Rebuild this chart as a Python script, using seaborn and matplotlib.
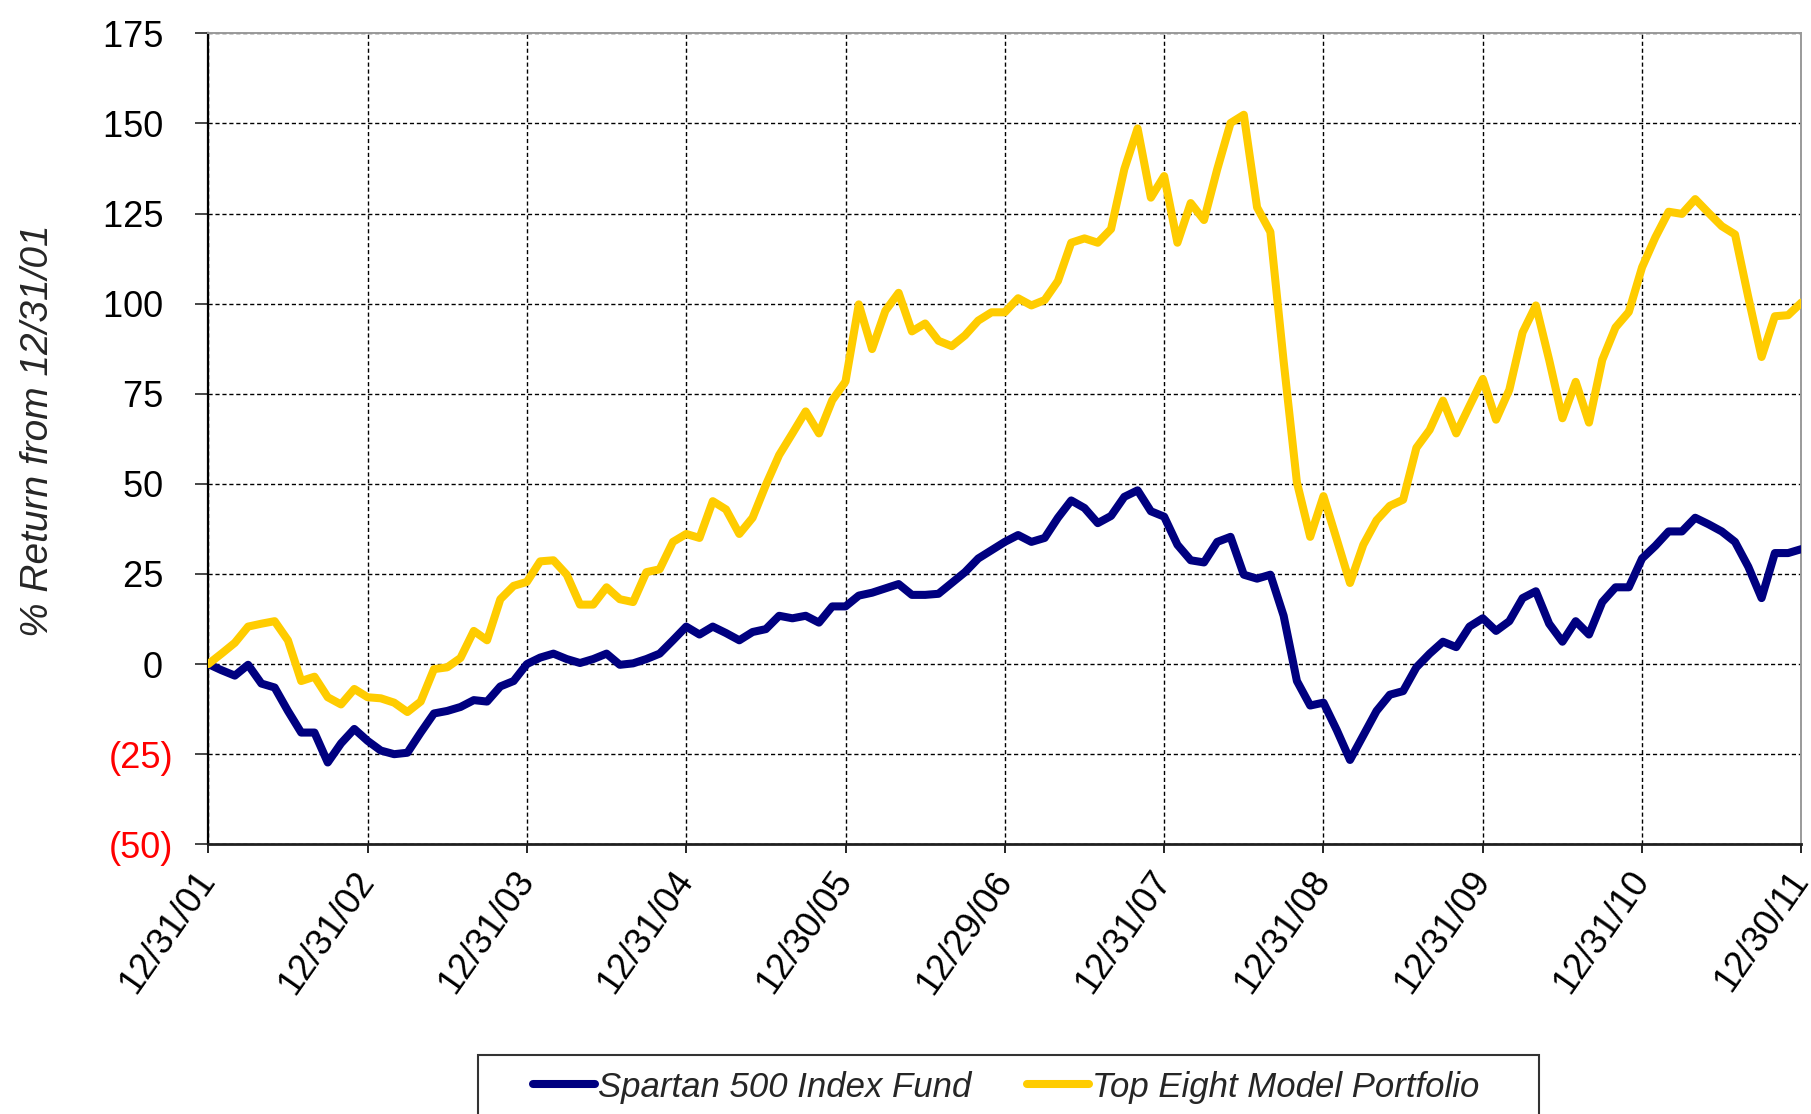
import numpy as np
import pandas as pd
import seaborn as sns
import matplotlib.pyplot as plt
from matplotlib.patches import Rectangle

#%% data (monthly, % return from 12/31/01)
spartan = [0, -1.7, -3.2, -0.2, -5.4, -6.5, -13, -19, -19, -27.3, -22, -18,
           -21.3, -24, -25, -24.6, -19, -13.7, -13, -11.9, -10, -10.4, -6.2, -4.7,
           0, 1.8, 2.9, 1.4, 0.3, 1.4, 2.9, -0.2, 0.2, 1.4, 2.9, 6.6,
           10.4, 8.2, 10.4, 8.6, 6.6, 8.9, 9.7, 13.4, 12.7, 13.4, 11.5, 16,
           16, 19, 19.8, 21, 22.2, 19.2, 19.2, 19.5, 22.5, 25.5, 29.3, 31.6,
           33.9, 35.8, 33.9, 35, 40.6, 45.4, 43.3, 39.1, 41.1, 46.4, 48.2, 42.4,
           40.9, 33.1, 28.8, 28.2, 33.9, 35.3, 24.8, 23.7, 24.8, 13.4, -4.7, -11.5,
           -10.7, -18.3, -26.6, -19.8, -13, -8.5, -7.5, -0.9, 2.9, 6.2, 4.7, 10.4,
           12.7, 9.2, 11.9, 18.3, 20.2, 11.2, 6.2, 11.9, 8.2, 17.2, 21.3, 21.3,
           29.3, 32.8, 36.8, 36.8, 40.6, 38.8, 36.8, 33.9, 27, 18.3, 30.8, 30.8,
           31.9]
top_eight = [0, 2.9, 5.9, 10.4, 11.2, 11.9, 6.6, -4.7, -3.5, -9.2, -11.2, -6.9,
             -9.2, -9.5, -10.7, -13.3, -10.4, -1.4, -0.9, 1.7, 9.2, 6.6, 18.0, 21.7,
             22.8, 28.5, 28.8, 24.8, 16.5, 16.5, 21.3, 18.0, 17.2, 25.5, 26.3, 33.9,
             36.1, 35.0, 45.2, 42.9, 36.1, 40.6, 49.7, 58.0, 64.0, 70.1, 64.0, 73.2,
             78.4, 99.8, 87.4, 98.0, 103.0, 92.3, 94.5, 89.7, 88.2, 91.2, 95.3, 97.6,
             97.6, 101.5, 99.5, 101.0, 106.3, 116.9, 118.1, 116.9, 120.7, 137.3, 148.6, 129.4,
             135.4, 116.9, 127.9, 123.2, 137.3, 150.1, 152.4, 126.7, 119.9, 84.0, 50.4, 35.3,
             46.6, 34.6, 22.5, 33.1, 39.9, 43.9, 45.6, 60.0, 65.0, 73.1, 64.0, 71.6,
             79.1, 67.8, 76.1, 92.0, 99.5, 84.4, 68.2, 78.3, 67.0, 84.4, 93.4, 97.7,
             110.1, 118.4, 125.5, 124.9, 129.0, 125.2, 121.5, 119.2, 101.8, 85.2, 96.5, 96.8,
             100.3]
date_labels = ['12/31/01', '12/31/02', '12/31/03', '12/31/04', '12/30/05', '12/29/06',
               '12/31/07', '12/31/08', '12/31/09', '12/31/10', '12/30/11']
y_ticks = [-50, -25, 0, 25, 50, 75, 100, 125, 150, 175]
series_names = ['Spartan 500 Index Fund', 'Top Eight Model Portfolio']
colors = {'Spartan 500 Index Fund': '#000080', 'Top Eight Model Portfolio': '#FFCC00'}

months = np.arange(len(spartan))
df = pd.concat([
    pd.DataFrame({'month': months, 'ret': spartan, 'series': series_names[0]}),
    pd.DataFrame({'month': months, 'ret': top_eight, 'series': series_names[1]}),
], ignore_index=True)

#%% plot
sns.set_style('white')
plt.rcParams['font.family'] = ['Liberation Sans', 'DejaVu Sans']

fig = plt.figure(figsize=(18.11, 11.14), dpi=100)
ax = fig.add_axes([0.1150, 0.2421, 0.8797, 0.7280])

sns.lineplot(data=df, x='month', y='ret', hue='series', palette=colors,
             linewidth=5.8, legend=False, ax=ax, solid_joinstyle='round',
             solid_capstyle='round', zorder=3)

ax.set_xlim(0, len(spartan) - 1)
ax.set_ylim(-50, 175)

# x ticks one per year
ax.set_xticks(np.arange(0, len(spartan), 12))
ax.set_xticklabels(date_labels, fontsize=26)
for lab in ax.get_xticklabels():
    lab.set_rotation(55)
    lab.set_ha('right')
    lab.set_va('center')
    lab.set_rotation_mode('anchor')

# y ticks, negatives in parentheses (red)
ylabels = ['(%d)' % -v if v < 0 else '%d ' % v for v in y_ticks]
ax.set_yticks(y_ticks)
ax.set_yticklabels(ylabels, fontsize=26)
for lab, v in zip(ax.get_yticklabels(), y_ticks):
    lab.set_color('red' if v < 0 else 'black')

ax.tick_params(axis='x', direction='out', length=6.5, width=1.2, pad=15.5,
               colors='black', bottom=True)
ax.tick_params(axis='y', direction='out', length=9.4, width=1.2, pad=15.8,
               left=True)

ax.grid(True, color='black', linestyle=(0, (3, 2)), linewidth=1.0)
ax.set_axisbelow(True)

ax.spines['left'].set_color('black')
ax.spines['left'].set_linewidth(1.6)
ax.spines['bottom'].set_color('#202020')
ax.spines['bottom'].set_linewidth(2.0)
for s in ['top', 'right']:
    ax.spines[s].set_color('#9a9a9a')
    ax.spines[s].set_linewidth(1.4)

ax.set_xlabel('')
ax.set_ylabel('% Return from 12/31/01', fontsize=28, style='italic')
ax.yaxis.set_label_coords(-0.0956, 0.5105)

# legend box (runs off bottom edge)
fig.patches.append(Rectangle((478 / 1811, -0.05), (1539 - 478) / 1811, 0.05 + 1 - 1055 / 1114,
                             transform=fig.transFigure, fill=False,
                             edgecolor='#333333', linewidth=1.5, clip_on=False))
handles = ax.get_lines()[:2]
leg = fig.legend(handles, series_names, loc='center left',
                 bbox_to_anchor=(533 / 1811, 1 - 1087 / 1114),
                 bbox_transform=fig.transFigure, ncol=2, frameon=False,
                 borderpad=0, borderaxespad=0, handlelength=1.79, handletextpad=0.09,
                 columnspacing=1.58, prop={'size': 25, 'style': 'italic'})

fig.savefig('out.png', dpi=100)
